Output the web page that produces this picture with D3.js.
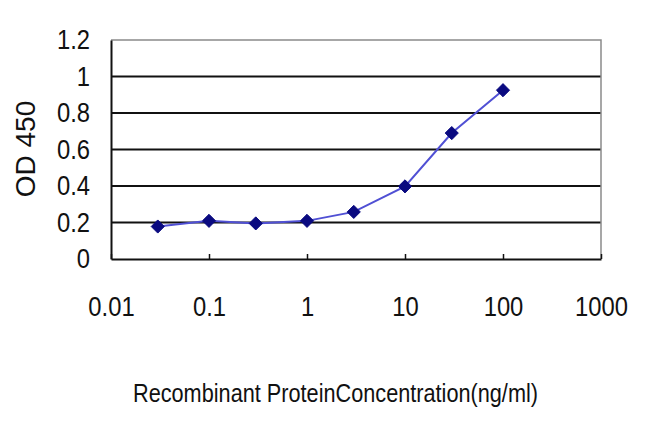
<!DOCTYPE html>
<html>
<head>
<meta charset="utf-8">
<script src="https://cdn.jsdelivr.net/npm/d3@7"></script>
<style>
  body { margin: 0; background: #fff; }
  text { font-family: "Liberation Sans", Arial, sans-serif; fill: #111; }
</style>
</head>
<body>
<div id="chart"></div>
<script>
// concentration (ng/ml) and measured OD 450
const concentrations = [0.03, 0.1, 0.3, 1, 3, 10, 30, 100];
const odValues = [0.178, 0.209, 0.195, 0.209, 0.258, 0.398, 0.69, 0.925];
const xTicks = [0.01, 0.1, 1, 10, 100, 1000];
const yTicks = [0, 0.2, 0.4, 0.6, 0.8, 1, 1.2];

const width = 650;
const height = 433;
const margin = { top: 40, right: 49, bottom: 174, left: 111 };
const squeeze = 0.85; // labels in the original are condensed

const svg = d3.select('#chart')
  .append('svg')
  .attr('width', width)
  .attr('height', height);

const x = d3.scaleLog()
  .domain([0.01, 1000])
  .range([margin.left, width - margin.right]);

const y = d3.scaleLinear()
  .domain([0, 1.2])
  .range([height - margin.bottom, margin.top]);

// horizontal gridlines
svg.append('g')
  .selectAll('line')
  .data(yTicks.filter(d => d > 0 && d < 1.2))
  .enter()
  .append('line')
  .attr('x1', x.range()[0])
  .attr('x2', x.range()[1])
  .attr('y1', d => y(d))
  .attr('y2', d => y(d))
  .attr('stroke', '#111')
  .attr('stroke-width', 2);

// top and right border
svg.append('path')
  .attr('d', `M${x.range()[0]},${y(1.2)}H${x.range()[1]}V${y(0)}`)
  .attr('fill', 'none')
  .attr('stroke', '#8a8a8a')
  .attr('stroke-width', 1.5);

function condense(sel) {
  sel.style('font-size', '28px')
    .attr('fill', '#111')
    .attr('x', function () { return (+d3.select(this).attr('x') || 0) / squeeze; })
    .attr('transform', `scale(${squeeze},1)`);
}

// y axis
const yAxis = svg.append('g')
  .attr('transform', `translate(${x.range()[0]},0)`)
  .call(d3.axisLeft(y).tickValues(yTicks).tickSize(0).tickPadding(21)
    .tickFormat(d3.format('~g')));
yAxis.select('.domain').attr('stroke', '#111').attr('stroke-width', 2);
yAxis.selectAll('text').call(condense);

// x axis, ticks pointing inside
const xAxis = svg.append('g')
  .attr('transform', `translate(0,${y(0)})`)
  .call(d3.axisBottom(x).tickValues(xTicks).tickSizeInner(-5).tickSizeOuter(0)
    .tickPadding(37).tickFormat(d3.format('~g')));
xAxis.select('.domain').attr('stroke', '#111').attr('stroke-width', 2);
xAxis.selectAll('line').attr('stroke', '#111').attr('stroke-width', 1.5);
xAxis.selectAll('text').call(condense);

// data line
const line = d3.line()
  .x((d, i) => x(concentrations[i]))
  .y(d => y(d));

svg.append('path')
  .datum(odValues)
  .attr('d', line)
  .attr('fill', 'none')
  .attr('stroke', '#5050d4')
  .attr('stroke-width', 2);

// diamond markers
svg.append('g')
  .selectAll('path')
  .data(odValues)
  .enter()
  .append('path')
  .attr('transform', (d, i) => `translate(${x(concentrations[i])},${y(d)})`)
  .attr('d', d3.symbol().type(d3.symbolDiamond2).size(110))
  .attr('fill', '#0a0a80')
  .attr('stroke', '#0a0a80')
  .attr('stroke-width', 1);

// axis titles
svg.append('text')
  .attr('transform', 'translate(35,149) rotate(-90)')
  .style('text-anchor', 'middle')
  .style('font-size', '28px')
  .text('OD 450');

svg.append('text')
  .attr('x', 133)
  .attr('y', 402)
  .attr('textLength', 405)
  .attr('lengthAdjust', 'spacingAndGlyphs')
  .style('font-size', '25px')
  .text('Recombinant ProteinConcentration(ng/ml)');
</script>
</body>
</html>
